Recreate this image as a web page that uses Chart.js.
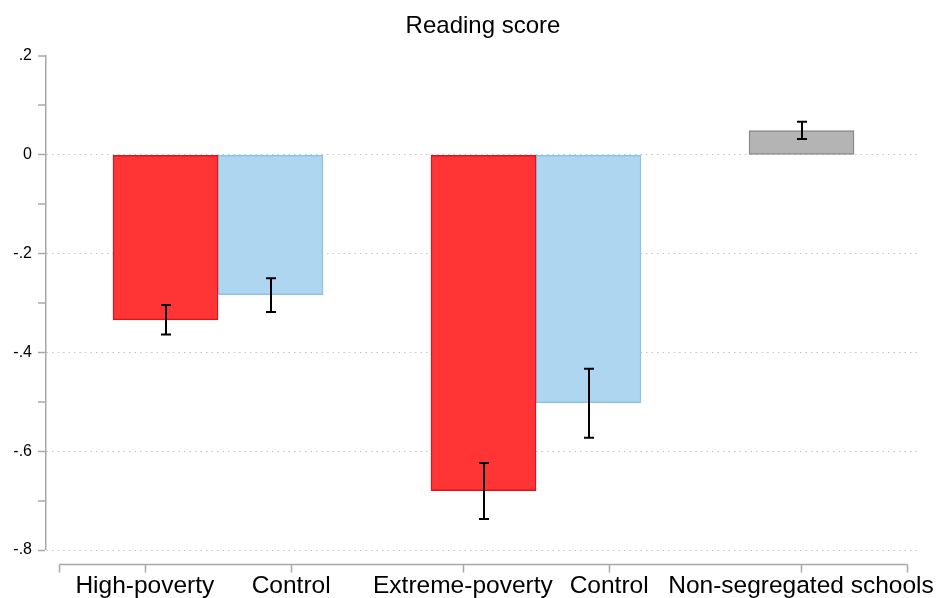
<!DOCTYPE html>
<html>
<head>
<meta charset="utf-8">
<title>Reading score</title>
<script src="https://cdn.jsdelivr.net/npm/chart.js@4.4.0/dist/chart.umd.min.js"></script>
<style>
  html, body { margin: 0; padding: 0; background: #ffffff; }
  #wrap { width: 938px; height: 598px; position: relative; }
</style>
</head>
<body>
<div id="wrap"><canvas id="chart"></canvas></div>
<script>
// Mean reading score by school group, with 95% confidence intervals
const groups = ['High-poverty', 'Extreme-poverty', 'Non-segregated schools'];
const schoolMeans = [-0.334, -0.680, 0.049];
const schoolLow = [-0.364, -0.737, 0.032];
const schoolHigh = [-0.304, -0.624, 0.067];
const controlMeans = [-0.283, -0.502];
const controlLow = [-0.318, -0.573];
const controlHigh = [-0.250, -0.433];

// Axis text
const chartTitle = 'Reading score';
const axisLabels = ['High-poverty', 'Control', 'Extreme-poverty', 'Control', 'Non-segregated schools'];
const yTickValues = [0.2, 0.1, 0, -0.1, -0.2, -0.3, -0.4, -0.5, -0.6, -0.7, -0.8];
const yTickLabels = ['.2', '', '0', '', '-.2', '', '-.4', '', '-.6', '', '-.8'];

// Layout: where the label ticks sit on the group axis (groups are centred on 1, 2, 3)
const labelSlots = [0.5, 0.77, 1.23, 1.77, 2.23, 2.8333, 3.1667];
const FONT = "'Liberation Sans', Arial, Helvetica, sans-serif";
const AXIS_GREY = '#a8a8a8';

const errorBars = {
  id: 'errorBars',
  afterDatasetsDraw(chart, args, opts) {
    const ys = chart.scales.y;
    const ctx = chart.ctx;
    chart.data.datasets.forEach((ds, di) => {
      const meta = chart.getDatasetMeta(di);
      meta.data.forEach((bar, i) => {
        const lo = ds.errLow[i], hi = ds.errHigh[i];
        if (lo == null || hi == null) return;
        const x = Math.round(bar.x);
        const y1 = ys.getPixelForValue(lo);
        const y2 = ys.getPixelForValue(hi);
        ctx.save();
        ctx.strokeStyle = opts.color;
        ctx.lineWidth = opts.width;
        ctx.beginPath();
        ctx.moveTo(x, y1); ctx.lineTo(x, y2);
        ctx.moveTo(x - opts.cap, y1); ctx.lineTo(x + opts.cap, y1);
        ctx.moveTo(x - opts.cap, y2); ctx.lineTo(x + opts.cap, y2);
        ctx.stroke();
        ctx.restore();
      });
    });
  }
};

// Bottom axis rule, set a little below the plot region
const bottomRule = {
  id: 'bottomRule',
  afterDraw(chart, args, opts) {
    const sx = chart.scales.x;
    const ctx = chart.ctx;
    const yLine = Math.round(chart.chartArea.bottom + opts.gap) + 0.5;
    const px = sx.ticks.map(t => Math.round(sx.getPixelForValue(t.value)) + 0.5);
    ctx.save();
    ctx.strokeStyle = opts.color;
    ctx.lineWidth = opts.width;
    ctx.beginPath();
    ctx.moveTo(px[0], yLine);
    ctx.lineTo(px[px.length - 1], yLine);
    px.forEach(p => { ctx.moveTo(p, yLine); ctx.lineTo(p, yLine + opts.tick); });
    ctx.stroke();
    ctx.restore();
  }
};

const RED = '#ff3434', RED_EDGE = '#e1121b';
const GREY = '#b4b4b4', GREY_EDGE = '#8a8a8a';
const BLUE = '#afd6f1', BLUE_EDGE = '#8cc2ea';
const isPlain = i => groups[i] === 'Non-segregated schools';

new Chart(document.getElementById('chart'), {
  type: 'bar',
  data: {
    datasets: [
      {
        label: 'Schools',
        xAxisID: 'x',
        yAxisID: 'y',
        data: groups.map((g, i) => ({ x: i + 1, y: schoolMeans[i] })),
        errLow: schoolLow,
        errHigh: schoolHigh,
        backgroundColor: ctx => isPlain(ctx.dataIndex) ? GREY : RED,
        borderColor: ctx => isPlain(ctx.dataIndex) ? GREY_EDGE : RED_EDGE,
        borderWidth: 1.5,
        borderSkipped: false
      },
      {
        label: 'Control',
        xAxisID: 'x',
        yAxisID: 'y',
        data: controlMeans.map((v, i) => ({ x: i + 1, y: v })),
        errLow: controlLow,
        errHigh: controlHigh,
        backgroundColor: BLUE,
        borderColor: BLUE_EDGE,
        borderWidth: 1.5,
        borderSkipped: false
      }
    ]
  },
  options: {
    responsive: true,
    maintainAspectRatio: false,
    animation: false,
    devicePixelRatio: 1,
    barThickness: 105,
    layout: { padding: { left: 0, right: 18, top: 0, bottom: 0 } },
    plugins: {
      legend: { display: false },
      tooltip: { enabled: false },
      title: { display: false },
      errorBars: { color: '#000000', width: 2, cap: 5 },
      bottomRule: { color: AXIS_GREY, width: 1.5, gap: 14, tick: 8 }
    },
    scales: {
      // top axis carries only the title, centred over the plot region
      top: {
        type: 'linear',
        position: 'top',
        min: 0,
        max: 1,
        afterFit: scale => { scale.height = 56; },
        grid: { display: false },
        border: { display: false },
        ticks: { display: false },
        title: {
          display: true,
          text: chartTitle,
          color: '#000000',
          font: { family: FONT, size: 24, weight: 'normal' },
          padding: { top: 11.9, bottom: 0 }
        }
      },
      x: {
        type: 'linear',
        position: 'bottom',
        offset: false,
        min: 0.4591,
        max: 3.2075,
        afterBuildTicks: scale => { scale.ticks = labelSlots.map(v => ({ value: v })); },
        afterFit: scale => { scale.height = 48; },
        grid: { display: false },
        border: { display: false },
        ticks: {
          autoSkip: false,
          maxRotation: 0,
          minRotation: 0,
          padding: 14,
          color: '#000000',
          font: { family: FONT, size: 24.5 },
          callback: (v, i) => (i > 0 && i <= axisLabels.length) ? axisLabels[i - 1] : ''
        }
      },
      y: {
        type: 'linear',
        min: -0.8,
        max: 0.2,
        afterBuildTicks: scale => { scale.ticks = yTickValues.map(v => ({ value: v })); },
        afterFit: scale => { scale.width = 46; },
        grid: {
          color: '#c4c4c4',
          lineWidth: ctx => {
            const t = Math.round(ctx.tick.value * 10);
            return (t <= 0 && t % 2 === 0) ? 1 : 0;
          },
          tickColor: AXIS_GREY,
          tickWidth: 1.5,
          tickLength: 8,
          tickBorderDash: []
        },
        border: { display: true, color: AXIS_GREY, width: 1.5, dash: [1.5, 4] },
        ticks: {
          padding: 6,
          color: '#000000',
          font: { family: FONT, size: 16 },
          callback: (v, i) => yTickLabels[i]
        }
      }
    }
  },
  plugins: [errorBars, bottomRule]
});
</script>
</body>
</html>
